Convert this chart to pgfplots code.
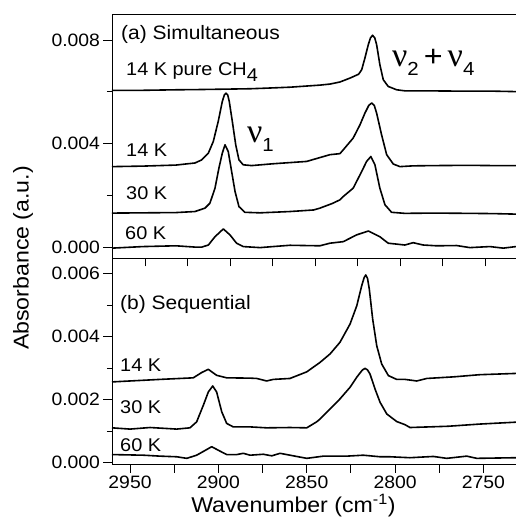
\documentclass[border=0pt]{standalone}
\usepackage{pgfplots}
\pgfplotsset{compat=1.18}
\usetikzlibrary{calc}
\usepackage{fontspec}
\setmainfont{Liberation Sans}[FakeStretch=1.08]
\newfontfamily\nufont{Liberation Serif}

\newcommand\nuglyph{{\nufont\fontsize{34}{34}\selectfont ν}}
\newcommand\annot{\fontsize{18.5}{18.5}\selectfont}

\pgfplotsset{
  spec/.style={
    width=404bp, scale only axis,
    x dir=reverse,
    axis y line*=left,
    axis line style={line width=0.9bp},
    tick style={black, line width=0.9bp},
    tick align=outside,
    xtick pos=bottom,
    major tick length=8.5bp, minor tick length=5bp,
    scaled y ticks=false,
    tick label style={font=\fontsize{18}{18}\selectfont},
    /pgf/number format/assume math mode=true,
    /pgf/number format/1000 sep={},
    yticklabel style={/pgf/number format/fixed, /pgf/number format/fixed zerofill, /pgf/number format/precision=3},
  },
  curve/.style={black, line width=1.6bp, line join=round, mark=none},
}

\begin{document}
\begin{tikzpicture}
% (a) simultaneous deposition
\begin{axis}[spec, name=top, height=244bp,
  xmin=2731.9, xmax=2969.6, ymin=-0.0004, ymax=0.009,
  xtick={2750,2775,...,2950}, xticklabels={},
  ytick={0,0.004,0.008}, minor ytick={0.002,0.006},
]
% 14 K pure CH4
\addplot[curve] coordinates {
(2969.6,0.00606) (2951.4,0.00606) (2932.0,0.00608) (2917.8,0.00609) (2888.4,0.00612)
(2880.0,0.00614) (2864.9,0.00618) (2847.3,0.00626) (2841.4,0.00630) (2835.5,0.00638)
(2829.6,0.00653) (2824.5,0.00668) (2822.7,0.00685) (2820.8,0.00730) (2818.8,0.00782)
(2817.5,0.00808) (2816.3,0.00818) (2815.0,0.00808) (2813.9,0.00782) (2812.0,0.00705)
(2810.0,0.00647) (2807.1,0.00621) (2802.1,0.00608) (2797.3,0.00604) (2786.5,0.00604)
(2766.9,0.00603) (2747.3,0.00603) (2731.9,0.00601)
};
% 14 K
\addplot[curve] coordinates {
(2969.6,0.00312) (2951.4,0.00314) (2932.0,0.00318) (2920.8,0.00326) (2916.8,0.00338)
(2912.9,0.00364) (2910.0,0.00409) (2907.1,0.00486) (2904.7,0.00563) (2903.5,0.00588)
(2902.5,0.00595) (2901.5,0.00588) (2900.6,0.00563) (2898.8,0.00486) (2896.8,0.00396)
(2894.9,0.00338) (2892.4,0.00319) (2887.4,0.00316) (2874.9,0.00323) (2855.1,0.00332)
(2841.4,0.00358) (2835.5,0.00362) (2833.5,0.00377) (2827.7,0.00422) (2823.7,0.00473)
(2820.8,0.00518) (2818.5,0.00548) (2816.8,0.00557) (2815.3,0.00548) (2813.9,0.00518)
(2811.0,0.00435) (2808.0,0.00358) (2804.1,0.00322) (2800.2,0.00312) (2792.4,0.00315)
(2780.0,0.00316) (2760.0,0.00317) (2745.0,0.00316) (2731.9,0.00316)
};
% 30 K
\addplot[curve] coordinates {
(2969.6,0.00133) (2932.0,0.00135) (2920.8,0.00139) (2914.9,0.00152) (2912.0,0.00171)
(2909.0,0.00229) (2906.7,0.00306) (2904.7,0.00364) (2903.1,0.00396) (2901.2,0.00370)
(2899.2,0.00293) (2897.2,0.00216) (2894.9,0.00158) (2891.4,0.00136) (2882.5,0.00134)
(2864.9,0.00139) (2851.0,0.00145) (2847.3,0.00152) (2840.0,0.00170) (2835.5,0.00184)
(2833.5,0.00197) (2827.7,0.00229) (2822.7,0.00293) (2819.8,0.00332) (2817.3,0.00351)
(2814.9,0.00319) (2812.0,0.00229) (2809.0,0.00165) (2805.1,0.00136) (2797.3,0.00132)
(2780.0,0.00133) (2760.0,0.00132) (2745.0,0.00131) (2731.9,0.00129)
};
% 60 K
\addplot[curve] coordinates {
(2969.6,-0.00002) (2951.4,0.00004) (2932.0,0.00007) (2920.8,0.00002) (2916.8,0.00002)
(2912.9,0.00010) (2909.0,0.00042) (2904.1,0.00072) (2900.2,0.00049) (2896.3,0.00017)
(2892.4,0.00004) (2882.5,0.00000) (2874.9,0.00004) (2864.9,0.00009) (2847.3,0.00007)
(2841.4,0.00017) (2833.5,0.00023) (2825.7,0.00049) (2818.8,0.00064) (2812.0,0.00042)
(2807.1,0.00017) (2797.3,0.00010) (2792.4,0.00019) (2786.5,0.00010) (2778.6,0.00007)
(2766.9,0.00008) (2759.0,0.00000) (2747.3,0.00004) (2739.4,-0.00002) (2731.9,0.00004)
};
\node[anchor=base west, inner sep=0, font=\fontsize{19.5}{19.5}\selectfont] at (axis description cs:0.0223,0.8975) {(a) Simultaneous};
\node[anchor=base west, inner sep=0, font=\annot] at (axis description cs:0.0347,0.746) {14 K pure CH\raisebox{-6bp}{4}};
\node[anchor=base west, inner sep=0, font=\annot] at (axis description cs:0.0347,0.414) {14 K};
\node[anchor=base west, inner sep=0, font=\annot] at (axis description cs:0.0347,0.238) {30 K};
\node[anchor=base west, inner sep=0, font=\annot] at (axis description cs:0.0322,0.0738) {60 K};
\node[anchor=base west, inner sep=0] at (axis description cs:0.693,0.783)
  {\nuglyph\raisebox{-9bp}{\fontsize{19}{19}\selectfont 2}\hspace{5bp}{\fontsize{30}{30}\selectfont +}\hspace{5bp}\nuglyph\raisebox{-9bp}{\fontsize{19}{19}\selectfont 4}};
\node[anchor=base west, inner sep=0] at (axis description cs:0.334,0.475)
  {\nuglyph\raisebox{-9bp}{\fontsize{19}{19}\selectfont 1}};
\end{axis}

% (b) sequential deposition
\begin{axis}[spec, name=bot, at={(top.south west)}, anchor=north west, height=206bp,
  xmin=2731.6, xmax=2960.2, ymin=-0.00005, ymax=0.0065,
  xtick={2750,2800,...,2950}, extra x ticks={2775,2825,2875,2925}, extra x tick labels={},
  ytick={0,0.002,0.004,0.006}, minor ytick={0.001,0.003,0.005},
  xlabel={Wavenumber (cm\textsuperscript{-1})},
  xlabel style={at={(axis description cs:0.449,-0.233)}, anchor=base, font=\fontsize{21.5}{21.5}\selectfont},
  ylabel={Absorbance (a.u.)},
  ylabel style={at={(axis description cs:-0.22,1.0)}, anchor=center, font=\fontsize{21.5}{21.5}\selectfont},
]
% 14 K
\addplot[curve] coordinates {
(2960.2,0.00256) (2933.0,0.00264) (2914.2,0.00269) (2909.4,0.00286) (2905.7,0.00296)
(2901.0,0.00277) (2895.3,0.00269) (2882.1,0.00268) (2878.3,0.00267) (2872.7,0.00259)
(2868.9,0.00264) (2859.5,0.00267) (2850.0,0.00288) (2842.5,0.00318) (2836.8,0.00345)
(2831.2,0.00382) (2825.5,0.00440) (2821.7,0.00498) (2818.9,0.00562) (2817.5,0.00588)
(2816.6,0.00596) (2815.6,0.00585) (2814.6,0.00551) (2812.7,0.00456) (2810.4,0.00371)
(2807.6,0.00313) (2803.8,0.00276) (2799.1,0.00264) (2794.4,0.00264) (2787.8,0.00259)
(2782.1,0.00267) (2767.1,0.00272) (2752.0,0.00279) (2731.6,0.00283)
};
% 30 K
\addplot[curve] coordinates {
(2960.2,0.00110) (2950.0,0.00106) (2938.7,0.00111) (2923.6,0.00106) (2916.1,0.00110)
(2912.3,0.00129) (2908.5,0.00182) (2905.7,0.00224) (2903.2,0.00243) (2901.0,0.00224)
(2898.1,0.00161) (2895.3,0.00124) (2891.6,0.00113) (2882.1,0.00113) (2872.7,0.00110)
(2859.5,0.00111) (2850.0,0.00110) (2844.4,0.00129) (2842.5,0.00138) (2836.8,0.00170)
(2831.2,0.00202) (2825.5,0.00239) (2821.7,0.00271) (2818.5,0.00294) (2817.0,0.00299)
(2815.6,0.00294) (2814.2,0.00281) (2811.4,0.00234) (2808.5,0.00191) (2804.7,0.00154)
(2799.1,0.00130) (2794.4,0.00120) (2791.6,0.00111) (2770.0,0.00115) (2752.0,0.00122)
(2731.6,0.00128)
};
% 60 K
\addplot[curve] coordinates {
(2960.2,0.00025) (2942.5,0.00023) (2933.0,0.00020) (2923.6,0.00018) (2917.9,0.00013)
(2912.3,0.00023) (2906.6,0.00041) (2903.8,0.00050) (2899.1,0.00036) (2895.3,0.00025)
(2889.6,0.00025) (2885.9,0.00029) (2882.1,0.00023) (2874.6,0.00026) (2869.8,0.00021)
(2865.1,0.00029) (2857.6,0.00021) (2850.0,0.00013) (2840.6,0.00020) (2827.4,0.00020)
(2818.0,0.00023) (2808.5,0.00018) (2802.9,0.00018) (2791.6,0.00015) (2778.4,0.00019)
(2770.8,0.00013) (2759.5,0.00020) (2753.8,0.00013) (2731.6,0.00015)
};
\node[anchor=base west, inner sep=0, font=\fontsize{19.5}{19.5}\selectfont] at (axis description cs:0.0198,0.748) {(b) Sequential};
\node[anchor=base west, inner sep=0, font=\annot] at (axis description cs:0.0198,0.451) {14 K};
\node[anchor=base west, inner sep=0, font=\annot] at (axis description cs:0.0198,0.243) {30 K};
\node[anchor=base west, inner sep=0, font=\annot] at (axis description cs:0.0198,0.063) {60 K};
\end{axis}

\pgfresetboundingbox
\path[use as bounding box] ($(bot.south west)+(-112bp,-66bp)$) rectangle ($(top.north east)+(0,14bp)$);
\end{tikzpicture}
\end{document}
